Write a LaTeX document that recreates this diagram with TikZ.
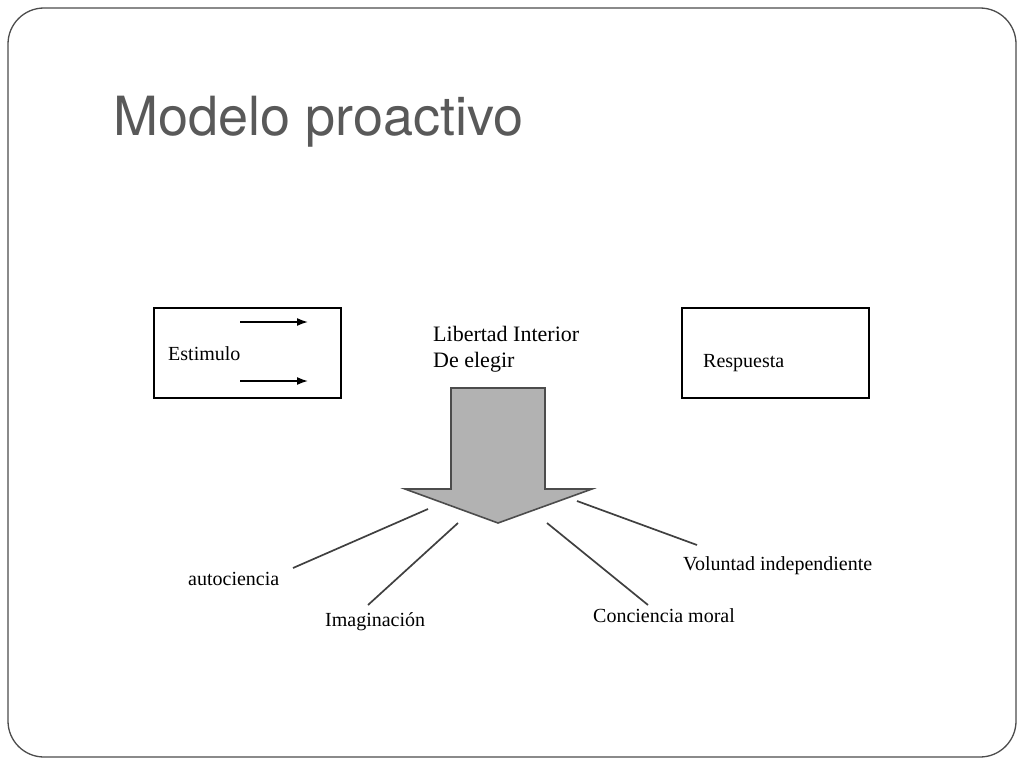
\documentclass[tikz,border=0pt]{standalone}
\usepackage{fontspec}
\setmainfont{Liberation Serif}
\newfontfamily\titlefont{TeX Gyre Heros}
\usepackage{tikz}
\usetikzlibrary{arrows.meta}
\tikzset{>={Latex[length=11pt,width=8pt]}}
\tikzset{lbl/.style={anchor=base west,inner sep=0pt,font=\fontsize{20}{24}\selectfont}}

\begin{document}
\begin{tikzpicture}[x=1pt,y=-1pt]
        \useasboundingbox (0,0) rectangle (1024,768);
        \draw[black!70,line width=1.3pt,rounded corners=36pt] (8,8) rectangle (1016,757);
        \node[anchor=base west,inner sep=0pt,text=black!65,font=\titlefont\fontsize{54}{60}\selectfont] (title) at (113,135) {Modelo proactivo};

        % boxes
        \node[draw,line width=2pt,minimum width=187pt,minimum height=90pt,anchor=north west,inner sep=0pt] (estim) at (153,307) {};
        \node[draw,line width=2pt,minimum width=187pt,minimum height=90pt,anchor=north west,inner sep=0pt] (resp) at (681,307) {};
        \node[lbl] (estimtext) at (168,360) {Estimulo};
        \node[lbl] (resptext) at (703,367) {Respuesta};
        \foreach \n/\y in {a/322,b/381} {
            \coordinate (in\n) at (240,\y);
            \coordinate (out\n) at (308,\y);
            \draw[->,line width=1.6pt] (in\n) -- (out\n);
        }

        \node[lbl,font=\fontsize{22}{26}\selectfont] (libertad) at (433,341) {Libertad Interior};
        \node[lbl,font=\fontsize{22}{26}\selectfont] (elegir) at (433,367) {De elegir};

        % big arrow
        \coordinate (p1) at (451,388);
        \coordinate (p2) at (545,388);
        \coordinate (p3) at (545,489);
        \coordinate (p4) at (592,489);
        \coordinate (tip) at (498,523);
        \coordinate (p6) at (405,489);
        \coordinate (p7) at (451,489);
        \draw[fill=black!30,draw=black!70,line width=1.6pt,line join=miter] (p1) -- (p2) -- (p3) -- (p4) -- (tip) -- (p6) -- (p7) -- cycle;

        % labels
        \node[lbl] (auto) at (188,585) {autociencia};
        \node[lbl] (imag) at (325,626) {Imaginación};
        \node[lbl] (conc) at (593,622) {Conciencia moral};
        \node[lbl] (vol) at (683,570) {Voluntad independiente};
        \coordinate (a1) at (428,509);
        \coordinate (a2) at (293,568);
        \coordinate (i1) at (458,523);
        \coordinate (i2) at (368,605);
        \coordinate (c1) at (547,523);
        \coordinate (c2) at (648,605);
        \coordinate (v1) at (577,501);
        \coordinate (v2) at (697,545);
        \foreach \u/\v in {a1/a2,i1/i2,c1/c2,v1/v2}
            \draw[black!75,line width=1.7pt] (\u) -- (\v);
    \end{tikzpicture}
\end{document}
